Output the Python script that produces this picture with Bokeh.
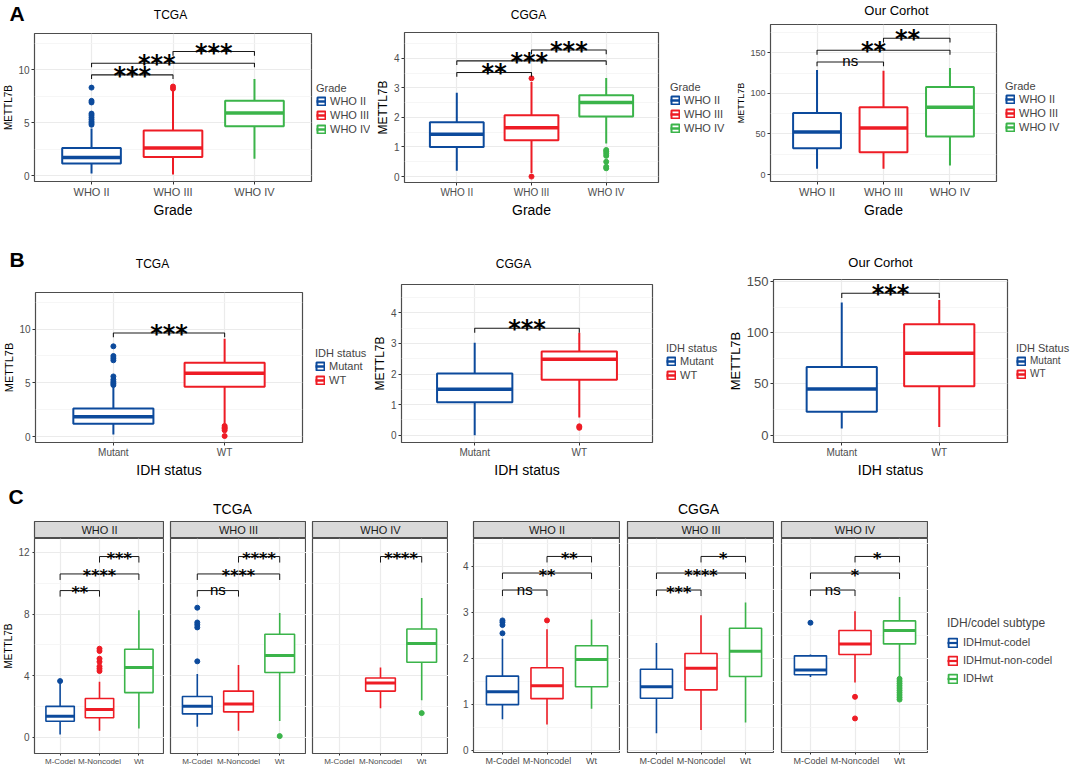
from bokeh.plotting import figure
from bokeh.models import FactorRange, Range1d, FixedTicker, Legend, LegendItem, Label
from bokeh.layouts import row, column
from bokeh.embed import file_html
from bokeh.resources import INLINE
from bokeh.core.properties import value

FONT = "Liberation Sans"
STAR_FONT = "DejaVu Sans"
BLUE = "#0C4A9C"
RED = "#EE1C25"
GREEN = "#3BB44A"

# ---------------- categories ----------------
grade_cats = ["WHO II", "WHO III", "WHO IV"]
grade_colors = [BLUE, RED, GREEN]
idh_cats = ["Mutant", "WT"]
idh_colors = [BLUE, RED]
sub_cats = ["M-Codel", "M-Noncodel", "Wt"]
sub_colors = [BLUE, RED, GREEN]
sub_legend = ["IDHmut-codel", "IDHmut-non-codel", "IDHwt"]

# ---------------- A: TCGA by grade ----------------
a1_q1 = [1.15, 1.75, 4.65]
a1_med = [1.72, 2.6, 5.9]
a1_q3 = [2.6, 4.25, 7.05]
a1_lo = [0.2, 0.1, 1.6]
a1_hi = [4.45, 8.0, 9.1]
a1_out = [[4.8, 4.95, 5.1, 5.3, 5.5, 5.7, 5.85, 6.9, 7.05, 8.3], [8.2, 8.4], []]
a1_pairs = [("WHO II", "WHO III"), ("WHO II", "WHO IV"), ("WHO III", "WHO IV")]
a1_sig_y = [9.5, 10.6, 11.7]
a1_sig = ["***", "***", "***"]
a1_sig_dx = [0, -0.2, 0]

# ---------------- A: CGGA by grade ----------------
a2_q1 = [1.0, 1.23, 2.03]
a2_med = [1.43, 1.65, 2.5]
a2_q3 = [1.84, 2.07, 2.75]
a2_lo = [0.2, 0.12, 1.12]
a2_hi = [2.83, 3.2, 3.33]
a2_out = [[], [0.0, 3.32], [0.28, 0.33, 0.5, 0.7, 0.78, 0.85, 0.9]]
a2_pairs = [("WHO II", "WHO III"), ("WHO II", "WHO IV"), ("WHO III", "WHO IV")]
a2_sig_y = [3.52, 3.91, 4.28]
a2_sig = ["**", "***", "***"]
a2_sig_dx = [0, -0.03, 0]

# ---------------- A: Our Corhot by grade ----------------
a3_q1 = [32.5, 27.4, 47.0]
a3_med = [52.5, 57.5, 83.0]
a3_q3 = [76.0, 83.0, 108.0]
a3_lo = [7.0, 7.0, 11.0]
a3_hi = [129.0, 128.0, 131.5]
a3_out = [[], [], []]
a3_pairs = [("WHO II", "WHO III"), ("WHO II", "WHO IV"), ("WHO III", "WHO IV")]
a3_sig_y = [138.8, 153.2, 168.1]
a3_sig = ["ns", "**", "**"]
a3_sig_dx = [0, -0.15, -0.14]

# ---------------- B: IDH status ----------------
b1_q1 = [1.2, 4.63]
b1_med = [1.85, 5.9]
b1_q3 = [2.63, 6.87]
b1_lo = [0.2, 1.2]
b1_hi = [4.6, 9.1]
b1_out = [[4.8, 4.95, 5.1, 5.3, 5.6, 7.1, 7.3, 7.5, 8.4], [1.0, 0.85, 0.75, 0.6, 0.06]]
b1_sig_y = [9.63]

b2_q1 = [1.08, 1.81]
b2_med = [1.5, 2.48]
b2_q3 = [2.02, 2.74]
b2_lo = [0.0, 0.58]
b2_hi = [3.02, 3.35]
b2_out = [[], [0.24, 0.29]]
b2_sig_y = [3.5]

b3_q1 = [22.8, 47.8]
b3_med = [45.0, 80.0]
b3_q3 = [66.5, 108.4]
b3_lo = [6.5, 8.0]
b3_hi = [129.5, 132.0]
b3_out = [[], []]
b3_sig_y = [138.5]

# ---------------- C: TCGA subtype by grade ----------------
ct2_q1 = [1.04, 1.27, 2.9]
ct2_med = [1.36, 1.8, 4.53]
ct2_q3 = [2.01, 2.52, 5.71]
ct2_lo = [0.19, 0.43, 0.57]
ct2_hi = [3.5, 3.6, 8.25]
ct2_out = [[3.65], [4.3, 4.45, 4.6, 4.9, 5.1, 5.6, 5.75], []]
ct2_sig = ["**", "****", "***"]

ct3_q1 = [1.52, 1.65, 4.21]
ct3_med = [2.01, 2.16, 5.31]
ct3_q3 = [2.65, 3.0, 6.69]
ct3_lo = [0.68, 0.43, 1.06]
ct3_hi = [4.11, 4.7, 8.07]
ct3_out = [[4.93, 7.13, 7.3, 7.45, 8.41], [], [0.08]]
ct3_sig = ["ns", "****", "****"]

ct4_q1 = [None, 3.0, 4.87]
ct4_med = [None, 3.52, 6.08]
ct4_q3 = [None, 3.85, 7.03]
ct4_lo = [None, 1.89, 2.41]
ct4_hi = [None, 4.53, 9.04]
ct4_out = [[], [], [1.57]]
ct4_sig = ["****"]

ct_pairs = [("M-Codel", "M-Noncodel"), ("M-Codel", "Wt"), ("M-Noncodel", "Wt")]
ct_sig_y = [9.52, 10.6, 11.73]
ct4_pairs = [("M-Noncodel", "Wt")]
ct4_sig_y = [11.73]

# ---------------- C: CGGA subtype by grade ----------------
cc2_q1 = [0.99, 1.12, 1.38]
cc2_med = [1.27, 1.4, 1.97]
cc2_q3 = [1.61, 1.79, 2.27]
cc2_lo = [0.67, 0.56, 0.9]
cc2_hi = [2.42, 2.63, 2.84]
cc2_out = [[2.54, 2.72, 2.78, 2.82], [2.82], []]
cc2_sig = ["ns", "**", "**"]

cc3_q1 = [1.13, 1.31, 1.6]
cc3_med = [1.38, 1.78, 2.15]
cc3_q3 = [1.76, 2.1, 2.65]
cc3_lo = [0.37, 0.44, 0.6]
cc3_hi = [2.33, 2.93, 3.21]
cc3_out = [[], [], []]
cc3_sig = ["***", "****", "*"]

cc4_q1 = [1.64, 2.08, 2.31]
cc4_med = [1.74, 2.31, 2.6]
cc4_q3 = [2.05, 2.6, 2.81]
cc4_lo = [1.59, 1.47, 1.59]
cc4_hi = [2.08, 3.02, 3.33]
cc4_out = [[2.77], [1.16, 0.69], [1.1, 1.15, 1.2, 1.25, 1.3, 1.35, 1.4, 1.45, 1.5, 1.55]]
cc4_sig = ["ns", "*", "*"]

cc_sig_y = [3.48, 3.85, 4.21]

# ---------------- helpers ----------------

def make_fig(cats, ylim, major, minor, fig_x, fig_y, fig_w, fig_h, fr,
             show_y=True, ytick="10px", xtick="10px", ylabel=None, ylabel_size="10px",
             xlabel=None, xlabel_size="14px", tick_out=3, lab_standoff=2, pad=0.2):
    L, T, R, B = fr
    p = figure(width=fig_w, height=fig_h,
               x_range=FactorRange(factors=cats, range_padding=pad, range_padding_units="absolute"),
               y_range=Range1d(ylim[0], ylim[1]),
               min_border_left=L - fig_x, min_border_right=fig_x + fig_w - R,
               min_border_top=T - fig_y, min_border_bottom=fig_y + fig_h - B,
               output_backend="svg", toolbar_location=None)
    p.background_fill_color = "white"
    p.border_fill_color = "white"
    p.outline_line_color = "#4D4D4D"
    p.outline_line_width = 1.2
    p.xgrid.grid_line_color = "#EBEBEB"
    p.xgrid.grid_line_width = 1.2
    p.ygrid.grid_line_color = "#EBEBEB"
    p.ygrid.grid_line_width = 1.2
    p.ygrid.minor_grid_line_color = "#F4F4F4"
    p.ygrid.minor_grid_line_width = 0.8
    p.yaxis.ticker = FixedTicker(ticks=major, minor_ticks=minor)
    for ax in p.axis:
        ax.axis_line_color = None
        ax.major_tick_line_color = "#333333"
        ax.major_tick_out = tick_out
        ax.major_tick_in = 0
        ax.minor_tick_line_color = None
        ax.major_label_text_color = "#4D4D4D"
        ax.major_label_text_font = FONT
        ax.axis_label_text_font = FONT
        ax.axis_label_text_font_style = "normal"
        ax.axis_label_text_color = "black"
        ax.major_label_standoff = lab_standoff
        ax.axis_label_standoff = 1
    p.xaxis.major_label_text_font_size = xtick
    p.yaxis.major_label_text_font_size = ytick
    if ylabel:
        p.yaxis.axis_label = ylabel
        p.yaxis.axis_label_text_font_size = ylabel_size
    if xlabel:
        p.xaxis.axis_label = xlabel
        p.xaxis.axis_label_text_font_size = xlabel_size
    if not show_y:
        p.yaxis.visible = False
    return p


def draw_boxes(p, cats, colors, q1, med, q3, lo, hi, outs, width=0.72, box_lw=2.0, med_lw=3.5, pt=5):
    for i, c in enumerate(cats):
        if q1[i] is None:
            continue
        col = colors[i]
        p.segment(x0=[c, c], y0=[lo[i], q3[i]], x1=[c, c], y1=[q1[i], hi[i]],
                  line_color=col, line_width=box_lw)
        p.vbar(x=[c], bottom=[q1[i]], top=[q3[i]], width=width,
               fill_color="white", line_color=col, line_width=box_lw)
        xc = i + 0.5
        p.segment(x0=[xc - width / 2], y0=[med[i]], x1=[xc + width / 2], y1=[med[i]],
                  line_color=col, line_width=med_lw)
        if outs[i]:
            p.scatter(x=[c] * len(outs[i]), y=outs[i], size=pt, color=col)


def add_sig(p, cats, pairs, ys, labels, dx, ylim, star_size, ns_size, lw=1.1, star_dy=1):
    tick = 0.028 * (ylim[1] - ylim[0])
    xs, yss = [], []
    sx, sy, st, nx, ny, nt = [], [], [], [], [], []
    for (a, b), y, lab, d in zip(pairs, ys, labels, dx):
        xa = cats.index(a) + 0.5
        xb = cats.index(b) + 0.5
        xs.append([xa, xa, xb, xb])
        yss.append([y - tick, y, y, y - tick])
        xm = (xa + xb) / 2 + d
        if lab == "ns":
            nx.append(xm); ny.append(y); nt.append(lab)
        else:
            sx.append(xm); sy.append(y); st.append(lab)
    p.multi_line(xs=xs, ys=yss, line_color="#1A1A1A", line_width=lw)
    if sx:
        p.text(x=sx, y=sy, text=st, text_align="center", text_baseline="middle",
               text_font=value(STAR_FONT), text_font_size=value(star_size),
               text_font_style=value("bold"), text_color="black", y_offset=star_dy)
    if nx:
        p.text(x=nx, y=ny, text=nt, text_align="center", text_baseline="alphabetic",
               text_font=value(FONT), text_font_size=value(ns_size),
               text_color="black", y_offset=-1)


def bare_fig(w, h, xr=(0, 1), yr=(0, 1)):
    f = figure(width=w, height=h, x_range=Range1d(*xr), y_range=Range1d(*yr),
               x_axis_type=None, y_axis_type=None, output_backend="svg", toolbar_location=None,
               min_border_left=0, min_border_right=0, min_border_top=0, min_border_bottom=0)
    f.outline_line_color = None
    f.background_fill_color = "white"
    f.border_fill_color = "white"
    return f


def legend_fig(fig_x, fig_y, w, h, colors, labels, title, x, ybot, lab_size="11px",
               title_size="11px", lab_h=14, glyph=10, standoff=0, box_lw=2.0, med_lw=2.5,
               lab_standoff=4):
    lf = bare_fig(w, h)
    items = []
    for col, lab in zip(colors, labels):
        b = lf.vbar(x=[0.5], bottom=[0.4], top=[0.6], width=0.2, fill_color="white",
                    line_color=col, line_width=box_lw, visible=False)
        m = lf.segment(x0=[0.4], y0=[0.5], x1=[0.6], y1=[0.5], line_color=col,
                       line_width=med_lw, visible=False)
        items.append(LegendItem(label=lab, renderers=[b, m]))
    leg = Legend(items=items, location=(x - fig_x, fig_y + h - ybot), title=title,
                 orientation="vertical", click_policy="none",
                 label_text_font=FONT, label_text_font_size=lab_size,
                 title_text_font=FONT, title_text_font_size=title_size, title_text_font_style="normal",
                 label_height=lab_h, glyph_height=glyph, glyph_width=glyph, spacing=0,
                 padding=0, margin=0, title_standoff=standoff, label_standoff=lab_standoff,
                 background_fill_alpha=0, border_line_alpha=0,
                 inactive_fill_alpha=0)
    lf.add_layout(leg)
    return lf


def header_fig(fig_x, fig_y, w, h, labels):
    hf = bare_fig(w, h, (0, w), (0, h))
    for (x, y, text, size, align, style) in labels:
        hf.add_layout(Label(x=x - fig_x, y=h - (y - fig_y), text=text, text_align=align,
                            text_baseline="middle", text_font=FONT, text_font_size=size,
                            text_font_style=style, text_color="black"))
    return hf


def solo(*figs):
    # wrap each plot in its own column so that sibling plot frames are not aligned
    return [column(f) for f in figs]


# ================= ROW A (y 0..220) =================
hA = header_fig(0, 0, 1070, 24, [(9, 13, "A", "21px", "left", "bold"),
                                 (170, 14, "TCGA", "12px", "center", "normal"),
                                 (528, 14, "CGGA", "12px", "center", "normal"),
                                 (896, 10, "Our Corhot", "13px", "center", "normal")])

fr = (29, 33, 311, 186)
a1_ylim = (-0.55, 13.4)
pA1 = make_fig(grade_cats, a1_ylim, [0, 5, 10], [2.5, 7.5, 12.5], 0, 24, 313, 196, fr,
               ytick="10px", xtick="11px", ylabel="METTL7B", ylabel_size="10px",
               xlabel="Grade", xlabel_size="14px", lab_standoff=1)
draw_boxes(pA1, grade_cats, grade_colors, a1_q1, a1_med, a1_q3, a1_lo, a1_hi, a1_out)
add_sig(pA1, grade_cats, a1_pairs, a1_sig_y, a1_sig, a1_sig_dx, a1_ylim, "24px", "15px")
lA1 = legend_fig(313, 24, 57, 196, grade_colors, grade_cats, "Grade", 316, 136)

fr2 = (404, 32, 658, 187)
a2_ylim = (-0.2, 4.87)
pA2 = make_fig(grade_cats, a2_ylim, [0, 1, 2, 3, 4], [0.5, 1.5, 2.5, 3.5, 4.5], 370, 24, 290, 196, fr2,
               ytick="10px", xtick="10px", ylabel="METTL7B", ylabel_size="12px",
               xlabel="Grade", xlabel_size="14px", lab_standoff=1)
draw_boxes(pA2, grade_cats, grade_colors, a2_q1, a2_med, a2_q3, a2_lo, a2_hi, a2_out)
add_sig(pA2, grade_cats, a2_pairs, a2_sig_y, a2_sig, a2_sig_dx, a2_ylim, "24px", "15px")
lA2 = legend_fig(660, 24, 68, 196, grade_colors, grade_cats, "Grade", 670, 135)

fr3 = (770, 24, 996, 189)
a3_ylim = (-8.6, 185)
pA3 = make_fig(grade_cats, a3_ylim, [0, 50, 100, 150], [25, 75, 125, 175], 728, 24, 270, 196, fr3,
               ytick="9px", xtick="11px", ylabel="METTL7B", ylabel_size="9px",
               xlabel="Grade", xlabel_size="14px", lab_standoff=1)
draw_boxes(pA3, grade_cats, grade_colors, a3_q1, a3_med, a3_q3, a3_lo, a3_hi, a3_out)
add_sig(pA3, grade_cats, a3_pairs, a3_sig_y, a3_sig, a3_sig_dx, a3_ylim, "24px", "15px")
lA3 = legend_fig(998, 24, 72, 196, grade_colors, grade_cats, "Grade", 1005, 134)

# ================= ROW B (y 220..480) =================
hB = header_fig(0, 220, 1070, 52, [(9, 259, "B", "21px", "left", "bold"),
                                   (152, 263, "TCGA", "12px", "center", "normal"),
                                   (513, 263, "CGGA", "12px", "center", "normal"),
                                   (880, 262, "Our Corhot", "13px", "center", "normal")])

frb1 = (29, 292, 302, 448)
b1_ylim = (-0.54, 13.4)
pB1 = make_fig(idh_cats, b1_ylim, [0, 5, 10], [2.5, 7.5, 12.5], 0, 272, 304, 208, frb1,
               ytick="10px", xtick="10px", ylabel="METTL7B", ylabel_size="11px",
               xlabel="IDH status", xlabel_size="14px", lab_standoff=1)
draw_boxes(pB1, idh_cats, idh_colors, b1_q1, b1_med, b1_q3, b1_lo, b1_hi, b1_out)
add_sig(pB1, idh_cats, [("Mutant", "WT")], b1_sig_y, ["***"], [0], b1_ylim, "24px", "15px")
lB1 = legend_fig(304, 272, 64, 208, idh_colors, idh_cats, "IDH status", 315, 387)

frb2 = (401, 284, 652, 448)
b2_ylim = (-0.24, 4.93)
pB2 = make_fig(idh_cats, b2_ylim, [0, 1, 2, 3, 4], [0.5, 1.5, 2.5, 3.5, 4.5], 368, 272, 286, 208, frb2,
               ytick="10px", xtick="10px", ylabel="METTL7B", ylabel_size="12px",
               xlabel="IDH status", xlabel_size="14px", lab_standoff=1)
draw_boxes(pB2, idh_cats, idh_colors, b2_q1, b2_med, b2_q3, b2_lo, b2_hi, b2_out)
add_sig(pB2, idh_cats, [("Mutant", "WT")], b2_sig_y, ["***"], [0], b2_ylim, "24px", "15px")
lB2 = legend_fig(654, 272, 66, 208, idh_colors, idh_cats, "IDH status", 666, 382)

frb3 = (773, 279, 1007, 448)
b3_ylim = (-7.2, 152)
pB3 = make_fig(idh_cats, b3_ylim, [0, 50, 100, 150], [25, 75, 125], 720, 272, 289, 208, frb3,
               ytick="13px", xtick="10px", ylabel="METTL7B", ylabel_size="13px",
               xlabel="IDH status", xlabel_size="14px", lab_standoff=1)
draw_boxes(pB3, idh_cats, idh_colors, b3_q1, b3_med, b3_q3, b3_lo, b3_hi, b3_out)
add_sig(pB3, idh_cats, [("Mutant", "WT")], b3_sig_y, ["***"], [0], b3_ylim, "24px", "15px")
lB3 = legend_fig(1009, 272, 61, 208, idh_colors, idh_cats, "IDH Status", 1016, 380,
                 lab_size="10px", title_size="11px", lab_h=13)

# ================= ROW C (y 480..768) =================
hC = header_fig(0, 480, 1070, 41, [(8, 496, "C", "21px", "left", "bold"),
                                   (232, 508, "TCGA", "14px", "center", "normal"),
                                   (698, 508, "CGGA", "14px", "center", "normal")])

C_TOP = 538
C_BOT = 753
C_FIG_Y = 538
C_FIG_H = 230
ct_ylim = (-1.05, 12.9)
cc_ylim = (-0.05, 4.6)


def strip(text, fig_w, left, right):
    s = figure(width=fig_w, height=17, x_range=Range1d(0, 1), y_range=Range1d(0, 1),
               x_axis_type=None, y_axis_type=None, output_backend="svg", toolbar_location=None,
               min_border_left=left, min_border_right=right, min_border_top=0, min_border_bottom=0)
    s.background_fill_color = "#D9D9D9"
    s.border_fill_color = "white"
    s.outline_line_color = "#4D4D4D"
    s.outline_line_width = 1.2
    s.add_layout(Label(x=0.5, y=0.5, text=text, text_align="center", text_baseline="middle",
                       text_font=FONT, text_font_size="11px", text_color="#1A1A1A"))
    return s


def facet(label, fig_x, fig_w, fl, fr_, ylim, major, minor, show_y, ylabel,
          q1, med, q3, lo, hi, outs, pairs, sig_y, sig, xtick="8px"):
    frc = (fl, C_TOP, fr_, C_BOT)
    p = make_fig(sub_cats, ylim, major, minor, fig_x, C_FIG_Y, fig_w, C_FIG_H, frc,
                 show_y=show_y, ytick="10px", xtick=xtick, ylabel=ylabel, ylabel_size="10px",
                 tick_out=2, lab_standoff=1, pad=0.15)
    draw_boxes(p, sub_cats, sub_colors, q1, med, q3, lo, hi, outs, box_lw=1.6, med_lw=3.0, pt=5)
    add_sig(p, sub_cats, pairs, sig_y, sig, [0] * len(sig), ylim, "16px", "15px", lw=1.0, star_dy=2)
    s = strip(label, fig_w, fl - fig_x, fig_x + fig_w - fr_)
    return column(s, p)


ct_major = [0, 4, 8, 12]
ct_minor = [2, 6, 10]
cc_major = [0, 1, 2, 3, 4]
cc_minor = [0.5, 1.5, 2.5, 3.5, 4.5]

fC1 = facet("WHO II", 0, 164, 29, 164, ct_ylim, ct_major, ct_minor, True, "METTL7B",
            ct2_q1, ct2_med, ct2_q3, ct2_lo, ct2_hi, ct2_out, ct_pairs, ct_sig_y, ct2_sig)
fC2 = facet("WHO III", 164, 142, 170, 306, ct_ylim, ct_major, ct_minor, False, None,
            ct3_q1, ct3_med, ct3_q3, ct3_lo, ct3_hi, ct3_out, ct_pairs, ct_sig_y, ct3_sig)
fC3 = facet("WHO IV", 306, 142, 312, 448, ct_ylim, ct_major, ct_minor, False, None,
            ct4_q1, ct4_med, ct4_q3, ct4_lo, ct4_hi, ct4_out, ct4_pairs, ct4_sig_y, ct4_sig)
fC4 = facet("WHO II", 448, 172, 473, 620, cc_ylim, cc_major, cc_minor, True, None,
            cc2_q1, cc2_med, cc2_q3, cc2_lo, cc2_hi, cc2_out, ct_pairs, cc_sig_y, cc2_sig, xtick="9px")
fC5 = facet("WHO III", 620, 154, 627, 774, cc_ylim, cc_major, cc_minor, False, None,
            cc3_q1, cc3_med, cc3_q3, cc3_lo, cc3_hi, cc3_out, ct_pairs, cc_sig_y, cc3_sig, xtick="9px")
fC6 = facet("WHO IV", 774, 154, 781, 928, cc_ylim, cc_major, cc_minor, False, None,
            cc4_q1, cc4_med, cc4_q3, cc4_lo, cc4_hi, cc4_out, ct_pairs, cc_sig_y, cc4_sig, xtick="9px")
lC = legend_fig(928, 521, 142, 247, sub_colors, sub_legend, "IDH/codel subtype", 947, 687,
                lab_size="11px", title_size="12px", lab_h=18, glyph=11, standoff=3,
                box_lw=1.8, med_lw=2.2, lab_standoff=5)

rowA = column(hA, row(*solo(pA1, lA1, pA2, lA2, pA3, lA3)))
rowB = column(hB, row(*solo(pB1, lB1, pB2, lB2, pB3, lB3)))
rowC = column(hC, row(fC1, fC2, fC3, fC4, fC5, fC6, column(lC)))
layout = column(rowA, rowB, rowC)

open("out.html", "w").write(file_html(layout, INLINE))
